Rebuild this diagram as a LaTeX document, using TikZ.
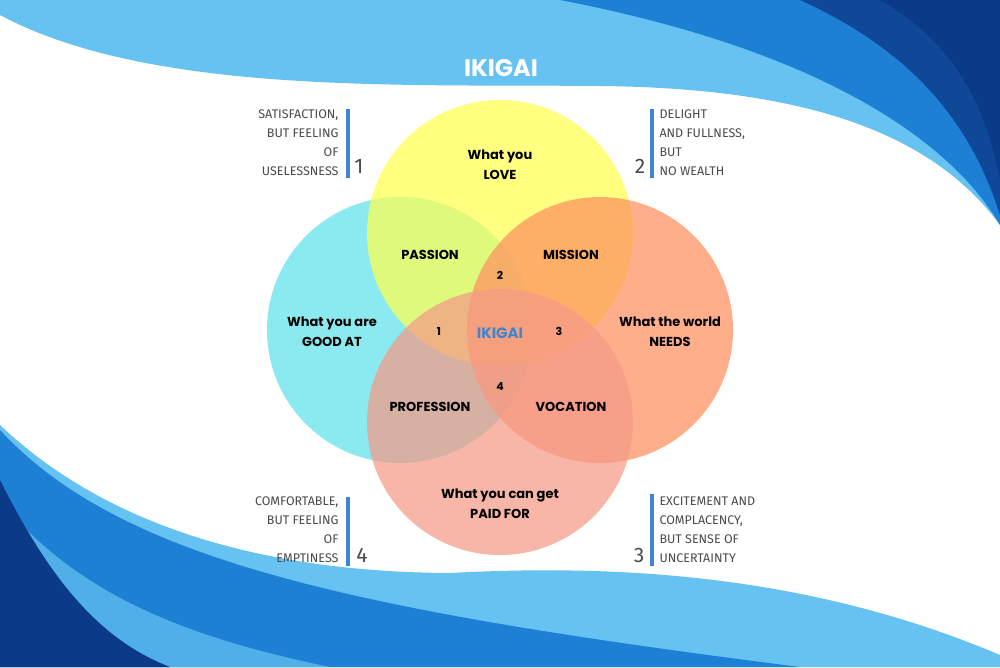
\documentclass[tikz,border=0pt]{standalone}
\usepackage{fontspec}
\setmainfont{Poppins}
\newfontfamily\side{Fira Sans}
\definecolor{cyanc}{HTML}{5EE3EA}
\definecolor{yelc}{HTML}{FFFF50}
\definecolor{orc}{HTML}{FF9060}
\definecolor{botc}{HTML}{F69A88}
\definecolor{barc}{HTML}{3F86D0}
\definecolor{grayt}{HTML}{4A4A4A}
\definecolor{lb}{HTML}{66C2F0}
\definecolor{mb}{HTML}{1E80D4}
\definecolor{db}{HTML}{0A3A88}
\begin{document}
\begin{tikzpicture}[x=1pt,y=-1pt,
  lab/.style={font=\bfseries\fontsize{13}{20}\selectfont, align=center, text=black},
  num/.style={font=\bfseries\fontsize{11}{13}\selectfont, text=black},
  note/.style={font=\side\fontsize{12.5}{19}\selectfont, text=grayt},
  bignum/.style={font=\side\fontsize{21}{21}\selectfont, text=grayt},
  bar/.style={fill=barc, draw=none},
  circ/.style={circle, minimum size=266pt, draw=none, fill opacity=0.72}]
\useasboundingbox (0,0) rectangle (1000,667);
\fill[white] (0,0) rectangle (1000,667);
% top waves
\fill[lb] (0,0) -- (1000,0) -- (1000,225) .. controls (930,130) and (800,88) .. (600,86) .. controls (400,84) and (150,95) .. (0,15) -- cycle;
\fill[mb] (560,0) -- (1000,0) -- (1000,225) .. controls (950,140) and (820,50) .. (560,0) -- cycle;
\fill[db!80!mb] (800,0) -- (1000,0) -- (1000,215) .. controls (970,120) and (910,50) .. (800,0) -- cycle;
\fill[db] (880,0) -- (1000,0) -- (1000,180) .. controls (985,100) and (950,40) .. (880,0) -- cycle;
% bottom waves
\fill[lb] (0,425) .. controls (100,520) and (250,572) .. (450,573) .. controls (600,565) and (800,570) .. (1000,655) -- (1000,667) -- (0,667) -- cycle;
\fill[mb] (0,430) .. controls (120,560) and (350,610) .. (800,667) -- (0,667) -- cycle;
\fill[lb!70!mb] (0,500) .. controls (80,600) and (200,640) .. (330,667) -- (0,667) -- cycle;
\fill[db] (0,480) .. controls (50,580) and (100,640) .. (170,667) -- (0,667) -- cycle;
% title
\node[font=\bfseries\fontsize{24}{24}\selectfont, text=white] (title) at (501,68) {IKIGAI};
% circles
\node[circ, fill=cyanc] (good) at (400,330) {};
\node[circ, fill=yelc] (love) at (500,233) {};
\node[circ, fill=orc] (world) at (600,330) {};
\node[circ, fill=botc] (paid) at (500,422) {};
% labels
\node[lab] (tl) at (500,165) {What you\\LOVE};
\node[lab] (gl) at (332,332) {What you are\\GOOD AT};
\node[lab] (wl) at (670,332) {What the world\\NEEDS};
\node[lab] (pl) at (500,504) {What you can get\\PAID FOR};
\node[lab] (passion) at (430,255) {PASSION};
\node[lab] (mission) at (571,255) {MISSION};
\node[lab] (prof) at (430,407) {PROFESSION};
\node[lab] (voc) at (571,407) {VOCATION};
\node[num] (n2) at (500,275) {2};
\node[num] (n1) at (439,331) {1};
\node[num] (n3) at (559,331) {3};
\node[num] (n4) at (500,387) {4};
\node[font=\bfseries\fontsize{15}{15}\selectfont, text=barc] (ik) at (500,333) {IKIGAI};
% side notes
\node[note, align=right, anchor=east] (s1) at (342,143) {SATISFACTION,\\BUT FEELING\\OF\\USELESSNESS};
\fill[bar] (346,109) rectangle (350,178);
\node[bignum] (b1) at (359,166) {1};
\node[note, align=left, anchor=west] (s2) at (656,143) {DELIGHT\\AND FULLNESS,\\BUT\\NO WEALTH};
\fill[bar] (650,109) rectangle (654,178);
\node[bignum] (b2) at (640,166) {2};
\node[note, align=right, anchor=east] (s4) at (342,530) {COMFORTABLE,\\BUT FEELING\\OF\\EMPTINESS};
\fill[bar] (346,497) rectangle (350,566);
\node[bignum] (b4) at (362,555) {4};
\node[note, align=left, anchor=west] (s3) at (656,530) {EXCITEMENT AND\\COMPLACENCY,\\BUT SENSE OF\\UNCERTAINTY};
\fill[bar] (650,494) rectangle (654,566);
\node[bignum] (b3) at (639,555) {3};
\end{tikzpicture}
\end{document}
